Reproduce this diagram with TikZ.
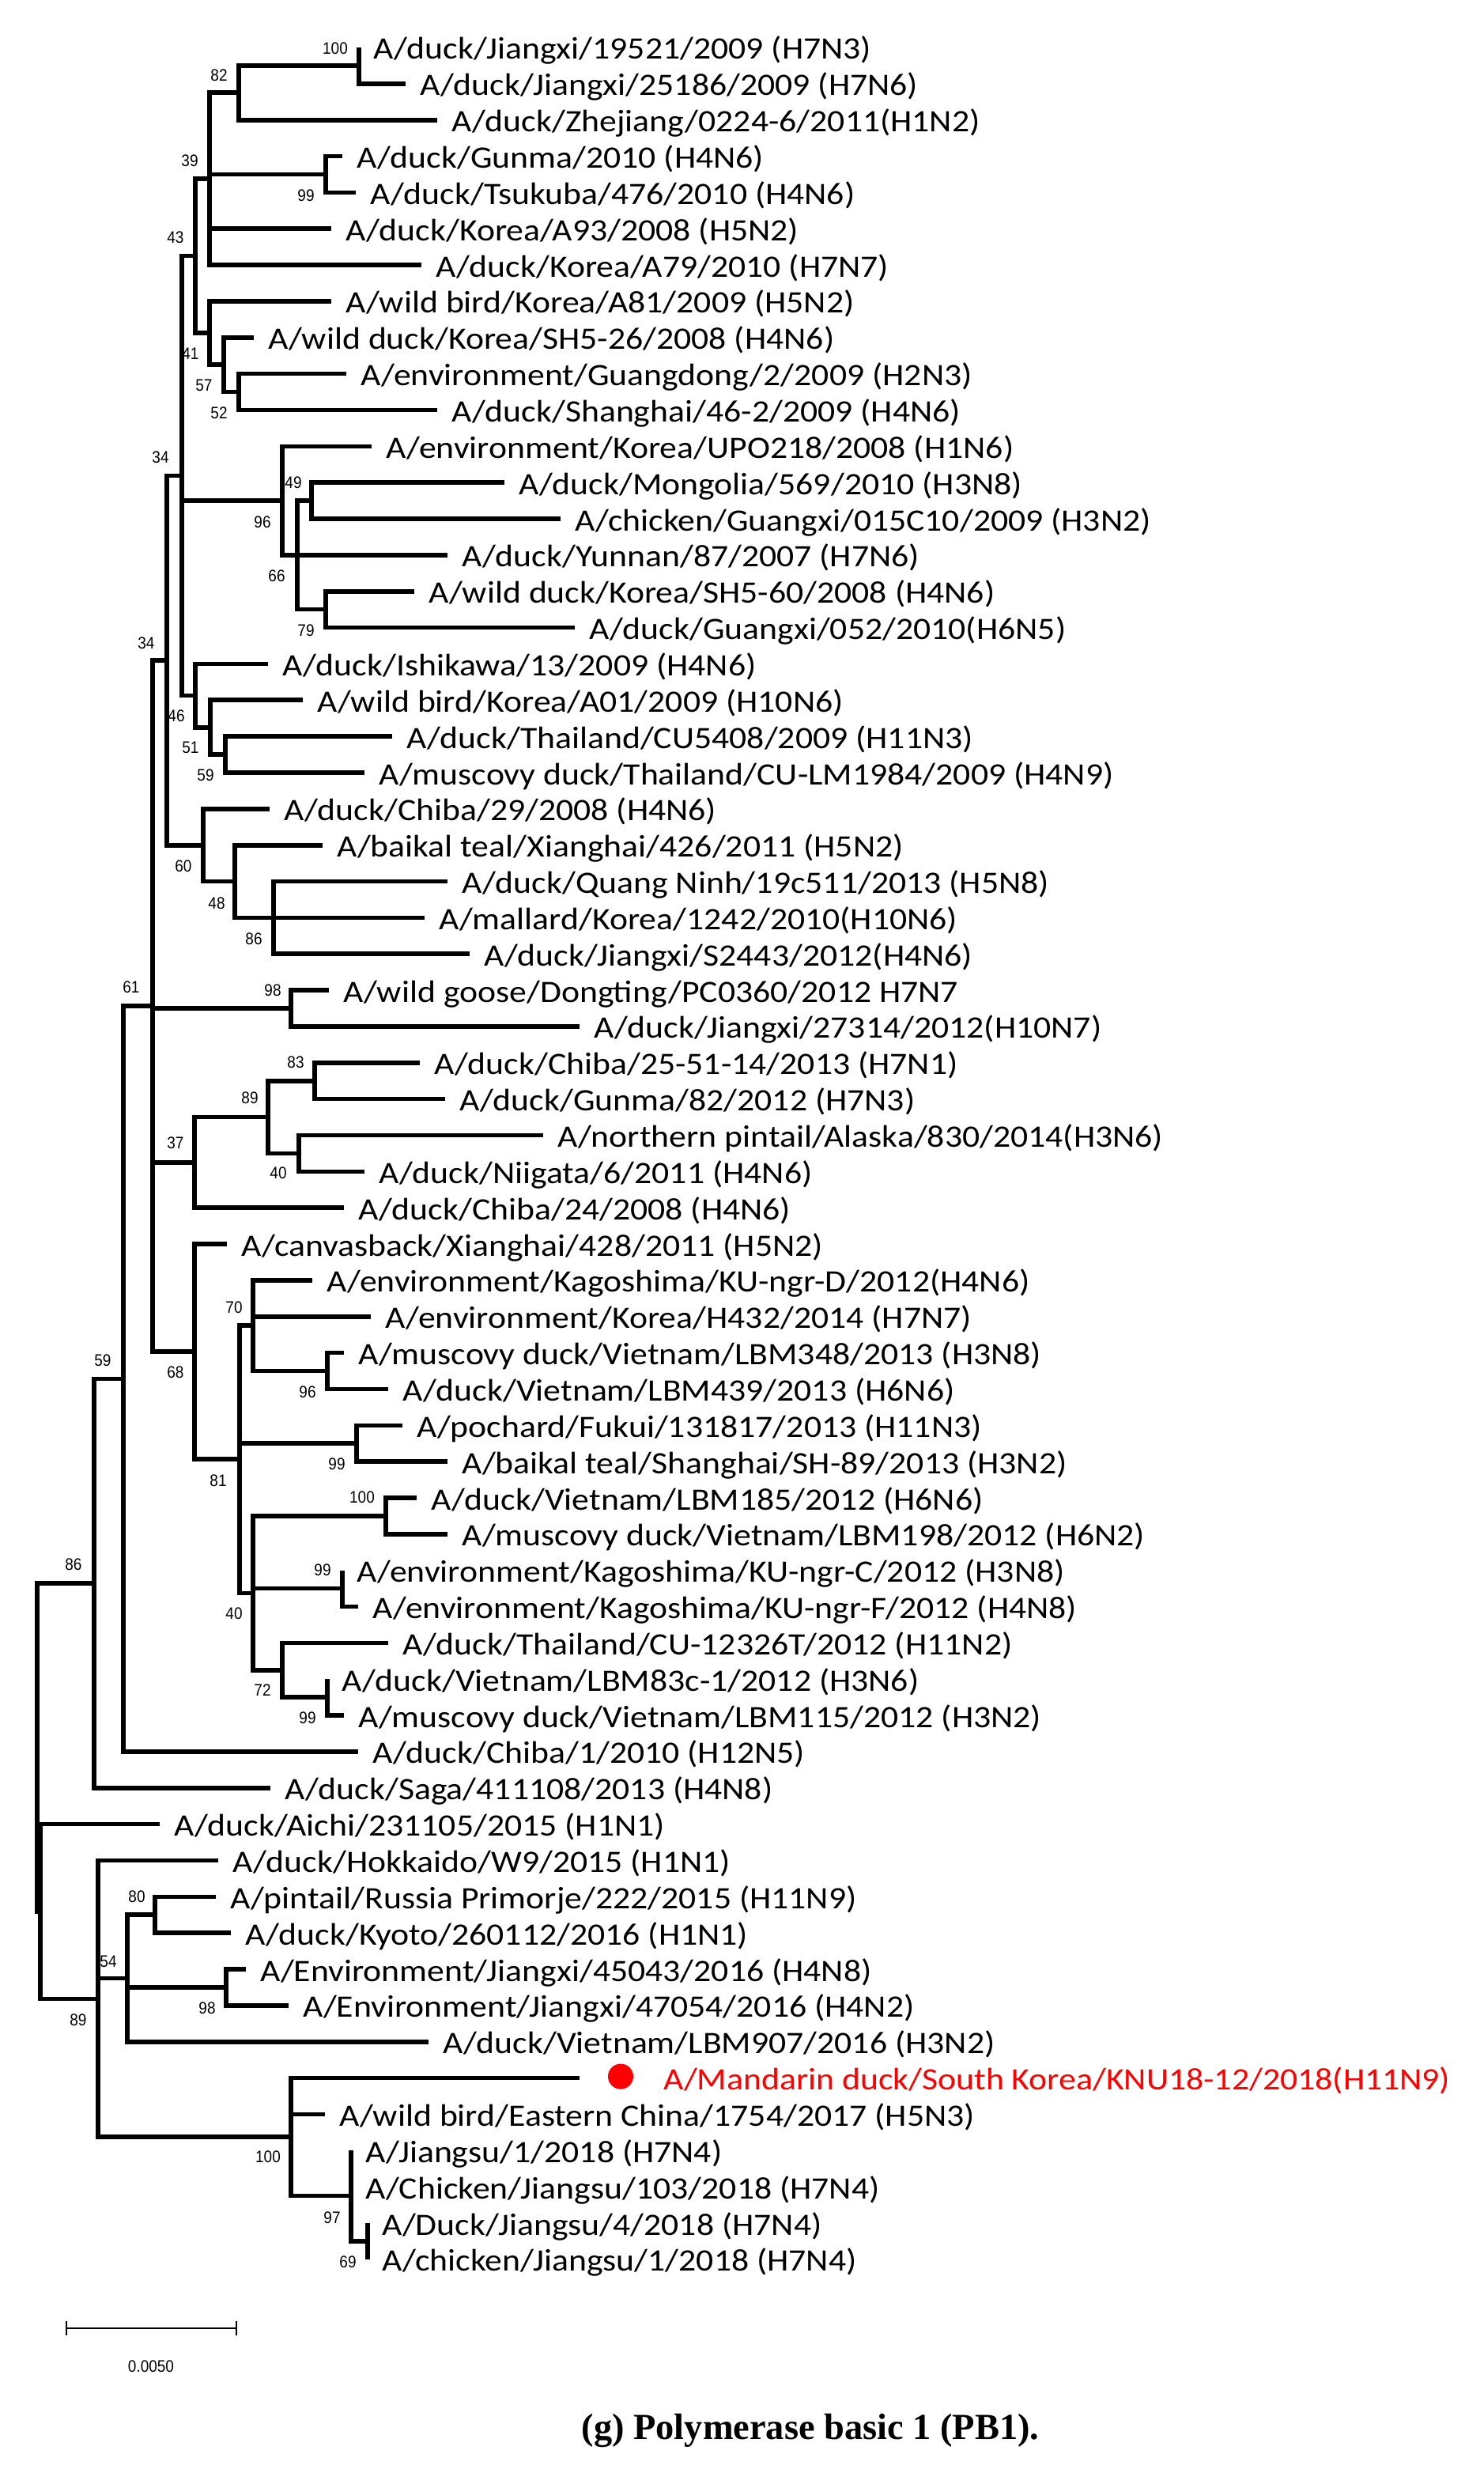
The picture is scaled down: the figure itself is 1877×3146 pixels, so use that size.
\documentclass[tikz,border=0pt]{standalone}
\usepackage{fontspec}
\usetikzlibrary{calc}
\newfontfamily\labfont[FakeStretch=1.11]{Carlito}
\newfontfamily\bsfont[FakeStretch=0.9]{Liberation Sans}
\newfontfamily\capfont{Liberation Serif}
\definecolor{mred}{RGB}{255,0,0}
\tikzset{
  br/.style={line width=1.6pt, line join=miter},
  lab/.style={anchor=base west, inner sep=0pt, font=\labfont\fontsize{11.2}{13}\selectfont},
  bs/.style={anchor=center, inner sep=0pt, font=\bsfont\fontsize{6}{7}\selectfont},
}
% leaf: name, x of tip, row index, text
\newcommand\lf[4]{%
  \coordinate (#1) at (#2,{60+(#3-1)*45.85});
  \node[lab] (#1t) at ($(#1)+(18,15)$) {#4};}
% internal node: name, x, first child, last child
\newcommand\tn[4]{%
  \path (#3) -- (#4) coordinate[pos=0.5] (#1m);
  \coordinate (#1x) at (#2,0);
  \coordinate (#1) at (#1x |- #1m);
  \draw[br] (#3) -- (#1 |- #3) -- (#1 |- #4) -- (#4);}
% extra (middle) child
\newcommand\mc[2]{\draw[br] (#1 |- #2) -- (#2);}
\begin{document}
\begin{tikzpicture}[x=0.01cm, y=-0.01cm]
\useasboundingbox (0,0) rectangle (1877,3146);
\fill[white] (0,0) rectangle (1877,3146);
% leaves
\lf{l1}{454}{1}{A/duck/Jiangxi/19521/2009 (H7N3)}
\lf{l2}{513}{2}{A/duck/Jiangxi/25186/2009 (H7N6)}
\lf{l3}{553}{3}{A/duck/Zhejiang/0224-6/2011(H1N2)}
\lf{l4}{433}{4}{A/duck/Gunma/2010 (H4N6)}
\lf{l5}{450}{5}{A/duck/Tsukuba/476/2010 (H4N6)}
\lf{l6}{419}{6}{A/duck/Korea/A93/2008 (H5N2)}
\lf{l7}{533}{7}{A/duck/Korea/A79/2010 (H7N7)}
\lf{l8}{419}{8}{A/wild bird/Korea/A81/2009 (H5N2)}
\lf{l9}{321}{9}{A/wild duck/Korea/SH5-26/2008 (H4N6)}
\lf{l10}{438}{10}{A/environment/Guangdong/2/2009 (H2N3)}
\lf{l11}{553}{11}{A/duck/Shanghai/46-2/2009 (H4N6)}
\lf{l12}{470}{12}{A/environment/Korea/UPO218/2008 (H1N6)}
\lf{l13}{638}{13}{A/duck/Mongolia/569/2010 (H3N8)}
\lf{l14}{709}{14}{A/chicken/Guangxi/015C10/2009 (H3N2)}
\lf{l15}{566}{15}{A/duck/Yunnan/87/2007 (H7N6)}
\lf{l16}{524}{16}{A/wild duck/Korea/SH5-60/2008 (H4N6)}
\lf{l17}{727}{17}{A/duck/Guangxi/052/2010(H6N5)}
\lf{l18}{339}{18}{A/duck/Ishikawa/13/2009 (H4N6)}
\lf{l19}{383}{19}{A/wild bird/Korea/A01/2009 (H10N6)}
\lf{l20}{496}{20}{A/duck/Thailand/CU5408/2009 (H11N3)}
\lf{l21}{461}{21}{A/muscovy duck/Thailand/CU-LM1984/2009 (H4N9)}
\lf{l22}{341}{22}{A/duck/Chiba/29/2008 (H4N6)}
\lf{l23}{408}{23}{A/baikal teal/Xianghai/426/2011 (H5N2)}
\lf{l24}{566}{24}{A/duck/Quang Ninh/19c511/2013 (H5N8)}
\lf{l25}{537}{25}{A/mallard/Korea/1242/2010(H10N6)}
\lf{l26}{594}{26}{A/duck/Jiangxi/S2443/2012(H4N6)}
\lf{l27}{416}{27}{A/wild goose/Dongting/PC0360/2012 H7N7}
\lf{l28}{733}{28}{A/duck/Jiangxi/27314/2012(H10N7)}
\lf{l29}{531}{29}{A/duck/Chiba/25-51-14/2013 (H7N1)}
\lf{l30}{563}{30}{A/duck/Gunma/82/2012 (H7N3)}
\lf{l31}{687}{31}{A/northern pintail/Alaska/830/2014(H3N6)}
\lf{l32}{461}{32}{A/duck/Niigata/6/2011 (H4N6)}
\lf{l33}{435}{33}{A/duck/Chiba/24/2008 (H4N6)}
\lf{l34}{287}{34}{A/canvasback/Xianghai/428/2011 (H5N2)}
\lf{l35}{395}{35}{A/environment/Kagoshima/KU-ngr-D/2012(H4N6)}
\lf{l36}{469}{36}{A/environment/Korea/H432/2014 (H7N7)}
\lf{l37}{435}{37}{A/muscovy duck/Vietnam/LBM348/2013 (H3N8)}
\lf{l38}{491}{38}{A/duck/Vietnam/LBM439/2013 (H6N6)}
\lf{l39}{509}{39}{A/pochard/Fukui/131817/2013 (H11N3)}
\lf{l40}{566}{40}{A/baikal teal/Shanghai/SH-89/2013 (H3N2)}
\lf{l41}{527}{41}{A/duck/Vietnam/LBM185/2012 (H6N6)}
\lf{l42}{566}{42}{A/muscovy duck/Vietnam/LBM198/2012 (H6N2)}
\lf{l43}{433}{43}{A/environment/Kagoshima/KU-ngr-C/2012 (H3N8)}
\lf{l44}{453}{44}{A/environment/Kagoshima/KU-ngr-F/2012 (H4N8)}
\lf{l45}{491}{45}{A/duck/Thailand/CU-12326T/2012 (H11N2)}
\lf{l46}{414}{46}{A/duck/Vietnam/LBM83c-1/2012 (H3N6)}
\lf{l47}{435}{47}{A/muscovy duck/Vietnam/LBM115/2012 (H3N2)}
\lf{l48}{453}{48}{A/duck/Chiba/1/2010 (H12N5)}
\lf{l49}{342}{49}{A/duck/Saga/411108/2013 (H4N8)}
\lf{l50}{202}{50}{A/duck/Aichi/231105/2015 (H1N1)}
\lf{l51}{276}{51}{A/duck/Hokkaido/W9/2015 (H1N1)}
\lf{l52}{273}{52}{A/pintail/Russia Primorje/222/2015 (H11N9)}
\lf{l53}{292}{53}{A/duck/Kyoto/260112/2016 (H1N1)}
\lf{l54}{311}{54}{A/Environment/Jiangxi/45043/2016 (H4N8)}
\lf{l55}{365}{55}{A/Environment/Jiangxi/47054/2016 (H4N2)}
\lf{l56}{542}{56}{A/duck/Vietnam/LBM907/2016 (H3N2)}
\coordinate (l57) at (733,{60+56*45.85});
\node[circle, fill=mred, inner sep=0pt, minimum size=0.32cm] (dot) at ($(l57)+(52,-2)$) {};
\node[lab, text=mred] (l57t) at ($(l57)+(106,15)$) {A/Mandarin duck/South Korea/KNU18-12/2018(H11N9)};
\lf{l58}{411}{58}{A/wild bird/Eastern China/1754/2017 (H5N3)}
\lf{l59}{444}{59}{A/Jiangsu/1/2018 (H7N4)}
\lf{l60}{444}{60}{A/Chicken/Jiangsu/103/2018 (H7N4)}
\lf{l61}{465}{61}{A/Duck/Jiangsu/4/2018 (H7N4)}
\lf{l62}{465}{62}{A/chicken/Jiangsu/1/2018 (H7N4)}
% internal nodes
\tn{A}{454}{l1}{l2}
\tn{B}{302}{A}{l3}
\tn{Gu}{412}{l4}{l5}
\tn{C}{265}{B}{l7} \mc{C}{Gu} \mc{C}{l6}
\tn{G}{302}{l10}{l11}
\tn{F}{283}{l9}{G}
\tn{E}{265}{l8}{F}
\tn{D}{247}{C}{E}
\tn{L}{394}{l13}{l14}
\tn{M}{412}{l16}{l17}
\tn{K}{376}{L}{M} \mc{K}{l15}
\tn{I}{357}{l12}{K}
\tn{R}{285}{l20}{l21}
\tn{Q}{266}{l19}{R}
\tn{J}{247}{l18}{Q}
\tn{H}{230}{D}{J} \mc{H}{I}
\tn{T}{346}{l24}{l26} \mc{T}{l25}
\tn{S}{297}{l23}{T}
\tn{P}{257}{l22}{S}
\tn{N}{211}{H}{P}
\tn{V}{368}{l27}{l28}
\tn{Z}{398}{l29}{l30}
\tn{AA}{378}{l31}{l32}
\tn{Y}{339}{Z}{AA}
\tn{W}{246}{Y}{l33}
\tn{AF}{414}{l37}{l38}
\tn{AC}{320}{l35}{AF} \mc{AC}{l36}
\tn{AD}{451}{l39}{l40}
\tn{AG}{488}{l41}{l42}
\tn{AH}{433}{l43}{l44}
\tn{AJ}{414}{l46}{l47}
\tn{AI}{357}{l45}{AJ}
\tn{AE}{320}{AG}{AI} \mc{AE}{AH}
\tn{AB}{303}{AC}{AE} \mc{AB}{AD}
\tn{X}{246}{l34}{AB}
\tn{U}{193}{N}{X} \mc{U}{V} \mc{U}{W}
\tn{BA}{156}{U}{l48}
\tn{BB}{119}{BA}{l49}
\tn{HH}{196}{l52}{l53}
\tn{II}{286}{l54}{l55}
\tn{GG}{161}{HH}{l56} \mc{GG}{II}
\tn{KK}{465}{l61}{l62}
\tn{JJ}{444}{l59}{KK} \mc{JJ}{l60}
\tn{FF}{368}{l57}{JJ} \mc{FF}{l58}
\tn{DD}{124}{l51}{FF} \mc{DD}{GG}
\tn{CC}{51}{l50}{DD}
\tn{RT}{47}{BB}{CC}
% bootstrap values
\node[bs] (bA) at (424,61) {100};
\node[bs] (bB) at (277,95) {82};
\node[bs] (bC) at (240,203) {39};
\node[bs] (bGu) at (387,247) {99};
\node[bs] (bD) at (222,300) {43};
\node[bs] (bE) at (241,447) {41};
\node[bs] (bF) at (258,487) {57};
\node[bs] (bG) at (277,522) {52};
\node[bs] (bH) at (203,578) {34};
\node[bs] (bL) at (371,610) {49};
\node[bs] (bI) at (332,660) {96};
\node[bs] (bK) at (350,728) {66};
\node[bs] (bM) at (387,797) {79};
\node[bs] (bN) at (185,813) {34};
\node[bs] (bJ) at (223,905) {46};
\node[bs] (bQ) at (241,945) {51};
\node[bs] (bR) at (260,980) {59};
\node[bs] (bP) at (232,1095) {60};
\node[bs] (bS) at (274,1142) {48};
\node[bs] (bT) at (321,1187) {86};
\node[bs] (bU) at (166,1248) {61};
\node[bs] (bV) at (345,1252) {98};
\node[bs] (bZ) at (374,1343) {83};
\node[bs] (bY) at (316,1388) {89};
\node[bs] (bW) at (222,1445) {37};
\node[bs] (bAA) at (352,1483) {40};
\node[bs] (bAC) at (296,1653) {70};
\node[bs] (bBA) at (130,1720) {59};
\node[bs] (bX) at (222,1735) {68};
\node[bs] (bAF) at (389,1760) {96};
\node[bs] (bAD) at (426,1851) {99};
\node[bs] (bAB) at (276,1872) {81};
\node[bs] (bAG) at (458,1893) {100};
\node[bs] (bBB) at (93,1978) {86};
\node[bs] (bAH) at (408,1985) {99};
\node[bs] (bAE) at (296,2040) {40};
\node[bs] (bAI) at (332,2137) {72};
\node[bs] (bAJ) at (389,2172) {99};
\node[bs] (bHH) at (173,2398) {80};
\node[bs] (bGG) at (137,2480) {54};
\node[bs] (bDD) at (99,2554) {89};
\node[bs] (bII) at (262,2539) {98};
\node[bs] (bFF) at (339,2727) {100};
\node[bs] (bJJ) at (420,2804) {97};
\node[bs] (bKK) at (440,2860) {69};
% scale bar
\coordinate (sb1) at (84,2944);
\coordinate (sb2) at (299,2944);
\draw[line width=0.6pt] (sb1) -- (sb2);
\draw[line width=0.6pt] ($(sb1)+(0,-9)$) -- ($(sb1)+(0,9)$);
\draw[line width=0.6pt] ($(sb2)+(0,-9)$) -- ($(sb2)+(0,9)$);
\node[bs] (sbl) at (191,2992) {0.0050};
% caption
\node[anchor=base, inner sep=0pt, font=\capfont\bfseries\fontsize{13.2}{15}\selectfont] (cap) at (1025,3084) {(g) Polymerase basic 1 (PB1).};
\end{tikzpicture}
\end{document}
